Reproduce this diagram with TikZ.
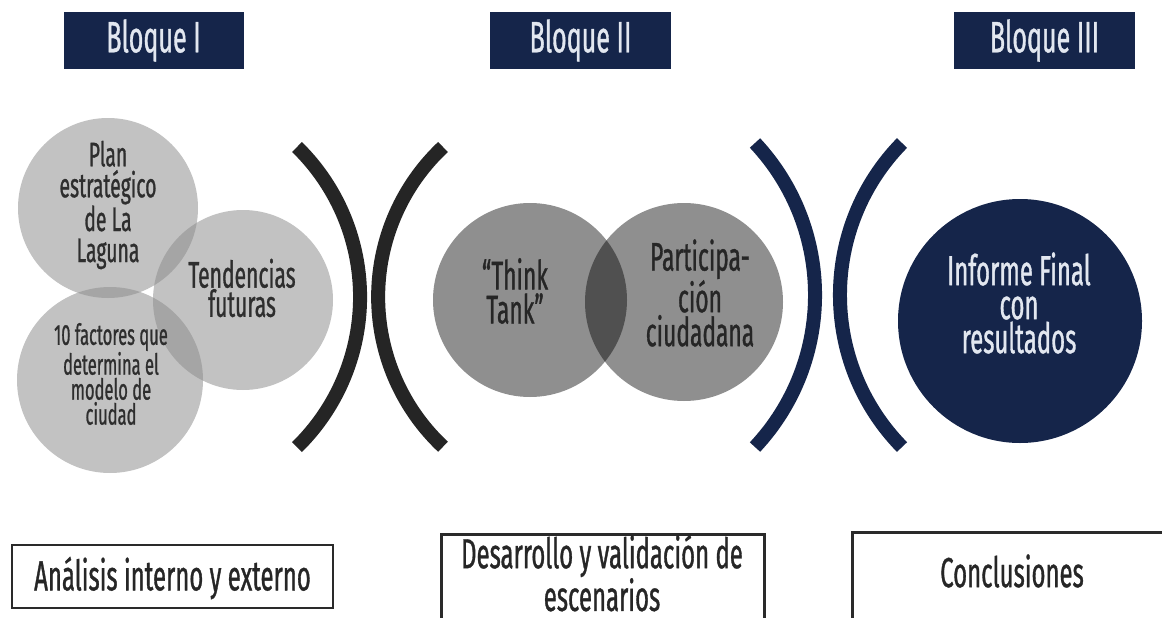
\documentclass[tikz,border=0pt]{standalone}
\usepackage{fontspec}
\setmainfont{Fira Sans}[FakeStretch=0.57, FakeBold=0.8]
\definecolor{navy}{HTML}{15254A}
\definecolor{ink}{HTML}{2E2E2E}
\definecolor{brk}{HTML}{252525}
\definecolor{hdtext}{HTML}{E2E7F0}
\definecolor{venAfill}{HTML}{8B8B8B}
\definecolor{boxline}{HTML}{2A2A2A}
\tikzset{
  hdr/.style={fill=navy, text=hdtext, minimum height=57pt, inner sep=0pt,
    font=\fontsize{44}{44}\selectfont},
  venA/.style={circle, inner sep=0pt, fill=venAfill, fill opacity=0.525, draw=none},
  venB/.style={circle, inner sep=0pt, fill=black, fill opacity=0.44, draw=none},
  txt/.style={inner sep=0pt, align=center, text=ink},
  brkblack/.style={draw=brk, line width=14pt},
  brknavy/.style={draw=navy, line width=14pt},
  boxstyle/.style={draw=boxline, line width=2.5pt, fill=white, inner sep=0pt},
  boxtext/.style={inner sep=0pt, align=center, text=black!85,
    font=\fontsize{42}{31}\selectfont}
}
\begin{document}
\begin{tikzpicture}[x=1pt,y=-1pt]
\useasboundingbox (0,0) rectangle (1162,618);
\fill[white] (0,0) rectangle (1162,618);
\clip (0,0) rectangle (1162,618);

% headers
\node[hdr, minimum width=180pt] (b1) at (153.5,40.5) {Bloque I};
\node[hdr, minimum width=181pt] (b2) at (580.5,40.5) {Bloque II};
\node[hdr, minimum width=181pt] (b3) at (1044.5,40.5) {Bloque III};

% block I circles
\node[venA, minimum size=180pt] (c1) at (108,208) {};
\node[venA, minimum size=180pt] (c2) at (243,300) {};
\node[venA, minimum size=186pt] (c3) at (110,380) {};

% block II circles
\node[venB, minimum size=194pt] (c4) at (530,300) {};
\node[venB, minimum size=198pt] (c5) at (684,302) {};

% block III circle
\node[circle, inner sep=0pt, fill=navy, minimum size=244pt] (c6) at (1020,321) {};

% circle texts
\node[txt, font=\fontsize{34}{31}\selectfont] (t1) at (108,205) {Plan\\estratégico\\de La\\Laguna};
\node[txt, font=\fontsize{37}{27}\selectfont] (t2) at (242,288) {Tendencias\\futuras};
\node[txt, font=\fontsize{29}{25}\selectfont] (t3) at (111,374) {10 factores que\\determina el\\modelo de\\ciudad};
\node[txt, font=\fontsize{40}{34}\selectfont, text=black!85] (t4) at (515,291) {“Think\\Tank”};
\node[txt, font=\fontsize{40}{34}\selectfont, text=black!85] (t5) at (700,293) {Participa-\\ción\\ciudadana};
\node[txt, font=\fontsize{42}{34}\selectfont, text=hdtext] (t6) at (1019,303) {Informe Final\\con\\resultados};

% brackets
\draw[brkblack] (297,147) arc[start angle=45.6, end angle=-45.6, radius=210pt];
\draw[brkblack] (443,147) arc[start angle=133.2, end angle=226.8, radius=205.6pt];
\draw[brknavy] (755,143) arc[start angle=43.1, end angle=-43.1, radius=222.5pt];
\draw[brknavy] (902,143) arc[start angle=135.6, end angle=224.4, radius=217.3pt];

% bottom boxes
\node[boxstyle, minimum width=321pt, minimum height=63pt] (a1) at (172.5,576.5) {};
\node[boxtext] (l1) at (172.5,578) {Análisis interno y externo};
\node[boxstyle, minimum width=323pt, minimum height=110pt, anchor=north west] (a2) at (440,533) {};
\node[boxtext] (l2) at (602,573) {Desarrollo y validación de\\escenarios};
\node[boxstyle, minimum width=330pt, minimum height=110pt, anchor=north west] (a3) at (851,531) {};
\node[boxtext] (l3) at (1012,571) {Conclusiones};
\end{tikzpicture}
\end{document}
